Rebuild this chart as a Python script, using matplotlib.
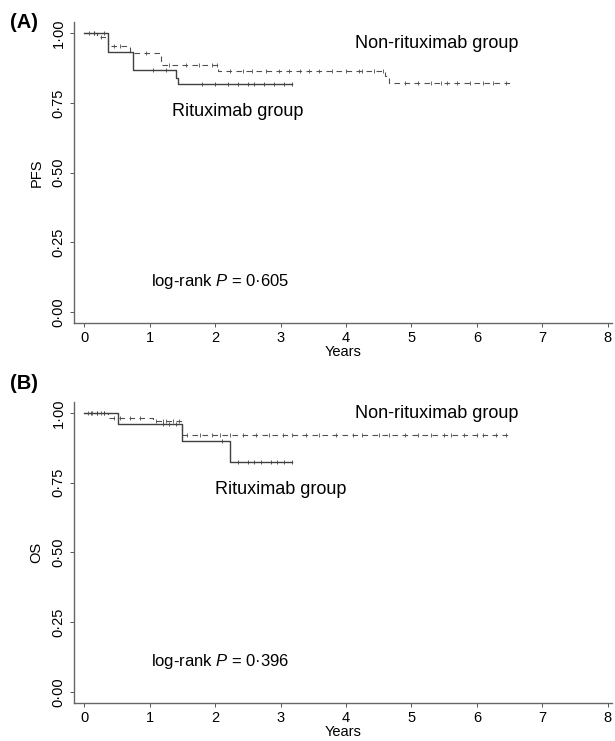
import matplotlib
matplotlib.use("Agg")
import matplotlib.pyplot as plt

plt.rcParams['font.family'] = ['Liberation Sans', 'DejaVu Sans']
plt.rcParams['mathtext.fontset'] = 'custom'
plt.rcParams['mathtext.rm'] = 'Liberation Sans'
plt.rcParams['mathtext.it'] = 'Liberation Sans:italic'

# Panel A: progression-free survival (step times in years, survival after each step)
pfs_ritux_t = [0, 0.37, 0.74, 1.40, 1.44, 3.18]
pfs_ritux_s = [1.0, 0.933, 0.867, 0.840, 0.817, 0.817]
pfs_ritux_cens = [0.15, 0.3, 1.05, 1.25, 1.8, 2.0, 2.2, 2.35, 2.5, 2.6, 2.75, 2.9, 3.05, 3.18]
pfs_non_t = [0, 0.2, 0.37, 0.70, 1.18, 2.05, 4.60, 4.66, 6.50]
pfs_non_s = [1.0, 0.988, 0.955, 0.930, 0.888, 0.866, 0.846, 0.823, 0.823]
pfs_non_cens = [0.08, 0.15, 0.25, 0.45, 0.55, 0.95, 1.3, 1.55, 1.75, 1.95, 2.03, 2.22, 2.42,
                2.57, 2.78, 2.98, 3.13, 3.29, 3.44, 3.59, 3.79, 4.0, 4.2, 4.25, 4.43, 4.56,
                4.9, 5.1, 5.3, 5.45, 5.55, 5.7, 5.9, 6.1, 6.25, 6.45]

# Panel B: overall survival
os_ritux_t = [0, 0.52, 1.50, 2.23, 3.18]
os_ritux_s = [1.0, 0.960, 0.899, 0.823, 0.823]
os_ritux_cens = [0.1, 0.2, 0.3, 1.2, 1.3, 1.4, 2.1, 2.35, 2.5, 2.6, 2.7, 2.85, 2.95, 3.05, 3.18]
os_non_t = [0, 0.37, 1.05, 1.50, 6.50]
os_non_s = [1.0, 0.984, 0.970, 0.921, 0.921]
os_non_cens = [0.05, 0.12, 0.2, 0.25, 0.3, 0.45, 0.55, 0.7, 0.85, 1.1, 1.2, 1.25, 1.35, 1.45,
               1.57, 1.77, 1.96, 2.07, 2.22, 2.42, 2.63, 2.83, 3.03, 3.18, 3.39, 3.59, 3.85,
               4.1, 4.25, 4.51, 4.66, 4.9, 5.1, 5.3, 5.5, 5.6, 5.8, 6.0, 6.1, 6.3, 6.45]

y_ticks = [0, 0.25, 0.5, 0.75, 1.0]
y_labels = ['0·00', '0·25', '0·50', '0·75', '1·00']
x_ticks = list(range(9))

panels = [
    ('(A)', 'PFS', 'log-rank $P$ = 0·605', pfs_ritux_t, pfs_ritux_s, pfs_ritux_cens,
     pfs_non_t, pfs_non_s, pfs_non_cens, (2.34, 0.72), (5.38, 0.962)),
    ('(B)', 'OS', 'log-rank $P$ = 0·396', os_ritux_t, os_ritux_s, os_ritux_cens,
     os_non_t, os_non_s, os_non_cens, (3.0, 0.725), (5.38, 1.0)),
]
axes_rects = [[0.1205, 0.564, 0.874, 0.406], [0.1205, 0.0515, 0.874, 0.406]]
tag_y = [0.969, 0.482]


def surv_at(t, times, surv):
    val = surv[0]
    for ti, si in zip(times, surv):
        if t >= ti:
            val = si
    return val


fig = plt.figure(figsize=(6.15, 7.41), dpi=100)

for rect, ty, (tag, ylab, ptxt, rt, rs, rc, nt, ns, nc, rpos, npos) in zip(axes_rects, tag_y, panels):
    ax = fig.add_axes(rect)
    ax.step(nt, ns, where='post', color='#505050', lw=0.8, ls=(0, (5, 4)))
    ax.step(rt, rs, where='post', color='#404040', lw=1.0)
    ax.plot(nc, [surv_at(t, nt, ns) for t in nc], ls='none', marker='|',
            ms=3.5, mew=0.6, color='#505050')
    ax.plot(rc, [surv_at(t, rt, rs) for t in rc], ls='none', marker='|',
            ms=3.5, mew=0.6, color='#404040')

    ax.set_xlim(-0.155, 8.06)
    ax.set_ylim(-0.04, 1.04)
    ax.set_xticks(x_ticks)
    ax.set_xticklabels([str(x) for x in x_ticks], fontsize=10.5)
    ax.set_yticks(y_ticks)
    ax.set_yticklabels(y_labels, fontsize=10.5, rotation=90, va='center')
    ax.tick_params(length=3, width=0.7, color='#555555', pad=3)
    for side in ['top', 'right']:
        ax.spines[side].set_visible(False)
    for side in ['left', 'bottom']:
        ax.spines[side].set_color('#666666')
        ax.spines[side].set_linewidth(1.0)
    ax.set_xlabel('Years', fontsize=10.5, labelpad=0)
    ax.set_ylabel(ylab, fontsize=10.5, labelpad=6)

    ax.text(rpos[0], rpos[1], 'Rituximab group', fontsize=13, ha='center', va='center')
    ax.text(npos[0], npos[1], 'Non-rituximab group', fontsize=13, ha='center', va='center')
    ax.text(1.02, 0.11, ptxt, fontsize=12, ha='left', va='center')
    fig.text(0.016, ty, tag, fontsize=14.5, fontweight='bold', ha='left', va='center')

fig.savefig('out.png', dpi=100)
